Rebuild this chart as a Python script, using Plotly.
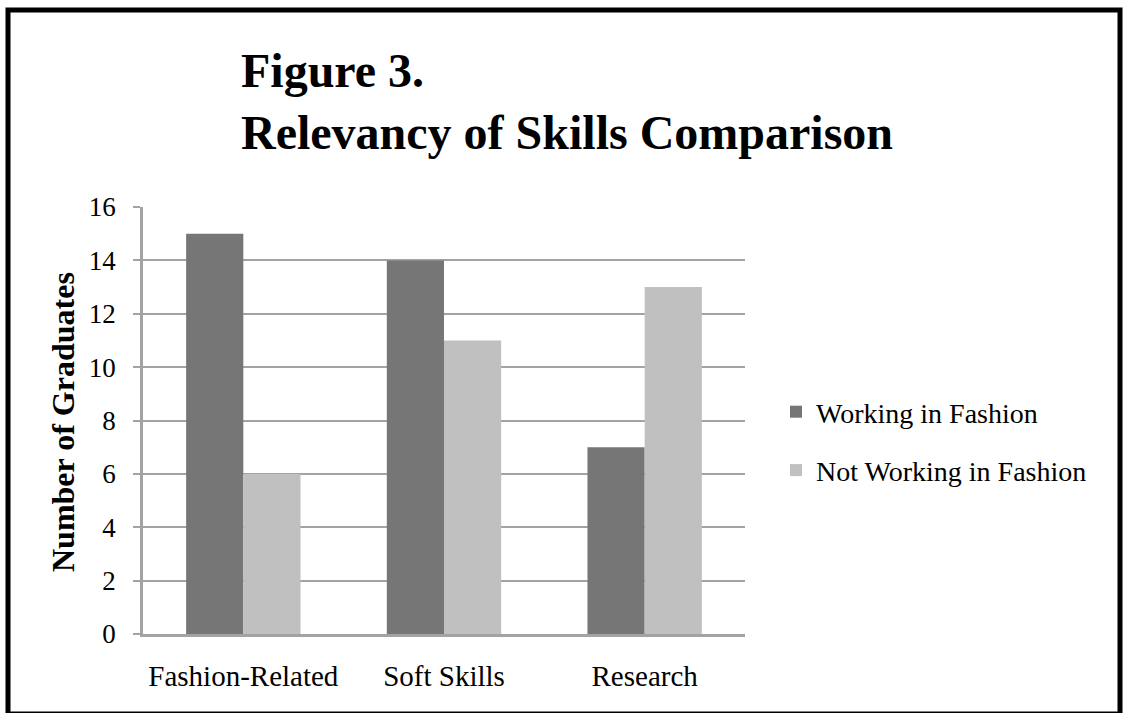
import plotly.graph_objects as go

categories = ["Fashion-Related", "Soft Skills", "Research"]
working = [15, 14, 7]
not_working = [6, 11, 13]
y_ticks = [0, 2, 4, 6, 8, 10, 12, 14, 16]
series_names = ["Working in Fashion", "Not Working in Fashion"]

W, H = 1124, 713
L, R, T, B = 143, 745, 207, 634  # plot area in px


def px_x(p):
    return (p - L) / (R - L)


def px_y(p):
    return (B - p) / (B - T)


SERIF = "Liberation Serif"
GRID = "#a3a3a3"

fig = go.Figure()
fig.add_trace(go.Bar(x=categories, y=working, name=series_names[0],
                     marker=dict(color="#767676", line=dict(width=0)),
                     legendgroup="a"))
fig.add_trace(go.Bar(x=categories, y=not_working, name=series_names[1],
                     marker=dict(color="#c0c0c0", line=dict(width=0)),
                     legendgroup="b"))

fig.update_layout(
    width=W, height=H,
    margin=dict(l=L, r=W - R, t=T, b=H - B, pad=0),
    paper_bgcolor="white", plot_bgcolor="white",
    barmode="group", bargap=0.43, bargroupgap=0,
    font=dict(family=SERIF, color="black"),
    showlegend=True,
    legend=dict(x=px_x(776), xanchor="left", y=px_y(441), yanchor="middle",
                font=dict(family=SERIF, size=28, color="black"),
                traceorder="grouped", tracegroupgap=19,
                bgcolor="rgba(0,0,0,0)", borderwidth=0),
    xaxis=dict(showgrid=False, showline=True, linecolor=GRID, linewidth=2.5,
               ticks="", tickfont=dict(family=SERIF, size=29, color="black"),
               ticklabelstandoff=14, fixedrange=True),
    yaxis=dict(range=[0, 16], tickvals=y_ticks, ticktext=[str(v) for v in y_ticks],
               showgrid=True, gridcolor=GRID, gridwidth=2,
               showline=True, linecolor=GRID, linewidth=2.5,
               ticks="outside", ticklen=7, tickcolor=GRID, tickwidth=2,
               tickfont=dict(family=SERIF, size=27, color="black"),
               ticklabelstandoff=12, zeroline=False, fixedrange=True),
    annotations=[
        dict(text="<b>Figure 3.<br>Relevancy of Skills Comparison</b>",
             xref="paper", yref="paper", x=px_x(239), y=px_y(42),
             xanchor="left", yanchor="top", align="left", showarrow=False,
             font=dict(family=SERIF, size=48, color="black")),
        dict(text="<b>Number of Graduates</b>", textangle=-90,
             xref="paper", yref="paper", x=px_x(63), y=px_y(422),
             xanchor="center", yanchor="middle", showarrow=False,
             font=dict(family=SERIF, size=32, color="black")),
    ],
    shapes=[
        dict(type="rect", xref="paper", yref="paper",
             x0=px_x(8), x1=px_x(1120), y0=px_y(714), y1=px_y(10),
             line=dict(color="black", width=5), fillcolor="rgba(0,0,0,0)",
             layer="above"),
    ],
)

fig.write_html("out.html",
               config={"displayModeBar": False},
               post_script="document.body.style.margin='0';document.body.style.overflow='hidden';")
